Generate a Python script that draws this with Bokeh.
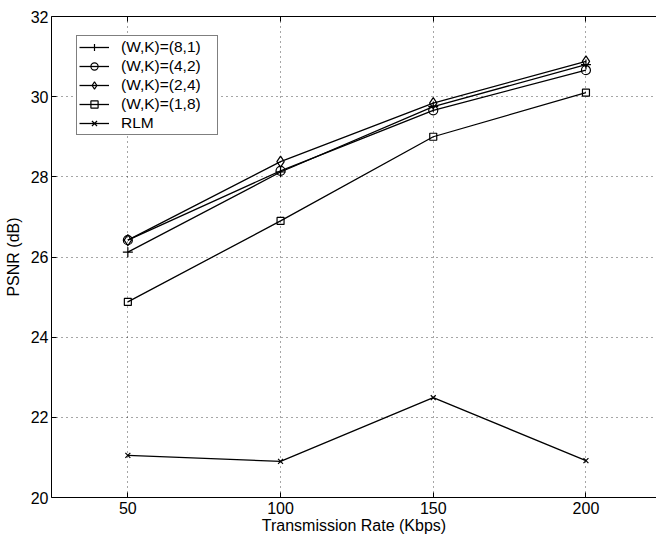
from bokeh.plotting import figure
from bokeh.models import Range1d, LinearAxis, Legend, LegendItem, FixedTicker, CustomLabelingPolicy
from bokeh.embed import file_html
from bokeh.resources import INLINE

rates = [50, 100, 150, 200]
psnr_8_1 = [26.12, 28.12, 29.75, 30.80]
psnr_4_2 = [26.42, 28.15, 29.66, 30.66]
psnr_2_4 = [26.42, 28.38, 29.84, 30.88]
psnr_1_8 = [24.88, 26.90, 29.00, 30.10]
psnr_rlm = [21.05, 20.90, 22.49, 20.92]
x_ticks = [50, 100, 150, 200]
y_ticks = [20, 22, 24, 26, 28, 30, 32]

FONT = "Liberation Sans"

p = figure(width=656, height=538, output_backend="svg", toolbar_location=None,
           x_range=Range1d(25, 223.1), y_range=Range1d(20, 32),
           min_border_left=51, min_border_right=0, min_border_top=16, min_border_bottom=41)
p.outline_line_color = None
p.background_fill_color = "white"
p.border_fill_color = "white"

for ax in (p.xaxis[0], p.yaxis[0]):
    ax.major_tick_in = 5
    ax.major_tick_out = 0
    ax.minor_tick_in = 0
    ax.minor_tick_out = 0
    ax.axis_line_color = "black"
    ax.major_tick_line_color = "black"
    ax.major_label_text_font = FONT
    ax.major_label_text_font_size = "16px"
    ax.major_label_text_color = "black"
    ax.axis_label_text_font = FONT
    ax.axis_label_text_font_size = "16px"
    ax.axis_label_text_font_style = "normal"
    ax.axis_label_text_color = "black"

p.xaxis.ticker = FixedTicker(ticks=x_ticks)
p.yaxis.ticker = FixedTicker(ticks=y_ticks)
p.xaxis.axis_label = "Transmission Rate (Kbps)"
p.yaxis.axis_label = "PSNR (dB)"
p.xaxis.major_label_standoff = 4
p.xaxis.axis_label_standoff = 0
p.yaxis.major_label_standoff = 3
p.yaxis.axis_label_standoff = 6

no_labels = CustomLabelingPolicy(code="for (const i of indices) indices.unset(i); return indices")
top = LinearAxis(ticker=FixedTicker(ticks=x_ticks), major_label_policy=no_labels,
                 major_tick_in=5, major_tick_out=0, minor_tick_in=0, minor_tick_out=0,
                 major_label_standoff=0, axis_line_color="black")
p.add_layout(top, "above")

p.xgrid.ticker = FixedTicker(ticks=x_ticks)
p.ygrid.ticker = FixedTicker(ticks=y_ticks)
p.grid.grid_line_color = "black"
p.grid.grid_line_alpha = 0.7
p.grid.grid_line_width = 1
p.grid.grid_line_dash = "1 4"

series = [
    ("(W,K)=(8,1)", psnr_8_1, "cross", 10),
    ("(W,K)=(4,2)", psnr_4_2, "circle", 9),
    ("(W,K)=(2,4)", psnr_2_4, "diamond", 11),
    ("(W,K)=(1,8)", psnr_1_8, "square", 7),
    ("RLM", psnr_rlm, "x", 7),
]

items = []
for label, vals, marker, size in series:
    r1 = p.line(rates, vals, line_color="black", line_width=1.3)
    r2 = p.scatter(rates, vals, marker=marker, size=size, line_color="black",
                   fill_color=None, line_width=1.2)
    items.append(LegendItem(label=label, renderers=[r1, r2]))

legend = Legend(items=items, location=(25, 362))
legend.label_text_font = FONT
legend.label_text_font_size = "15.5px"
legend.label_text_color = "black"
legend.border_line_color = "black"
legend.border_line_width = 1
legend.background_fill_color = "white"
legend.background_fill_alpha = 1
legend.glyph_width = 30
legend.glyph_height = 18
legend.label_height = 18
legend.label_width = 94
legend.spacing = 1
legend.padding = 2
legend.margin = 0
legend.label_standoff = 12
p.add_layout(legend)

open("out.html", "w").write(file_html(p, INLINE))
